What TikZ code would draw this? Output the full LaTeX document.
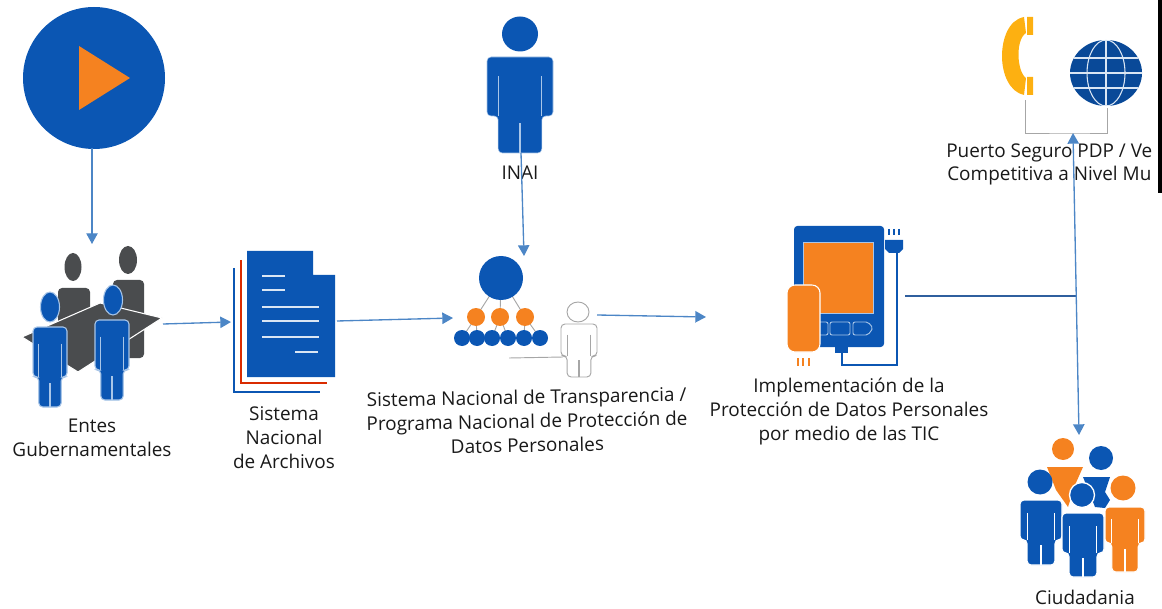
\documentclass[tikz,border=0pt]{standalone}
\usepackage{fontspec}
\setmainfont{Open Sans}
\usetikzlibrary{arrows.meta}
\definecolor{mblue}{HTML}{0B56B3}
\definecolor{morange}{HTML}{F58220}
\definecolor{myellow}{HTML}{FDB011}
\definecolor{mgrey}{HTML}{4A4C4E}
\definecolor{mline}{HTML}{4C86C6}
\definecolor{mlight}{HTML}{A9C6E8}
\definecolor{mdark}{HTML}{2F5F9E}
\tikzset{
  flow/.style={draw=mline,line width=1pt,-{Triangle[length=8pt,width=8.5pt,fill=mline]}},
  flowboth/.style={draw=mline,line width=1pt,{Triangle[length=8pt,width=8.5pt,fill=mline]}-{Triangle[length=8pt,width=8.5pt,fill=mline]}},
  plainline/.style={draw=mdark,line width=1.2pt},
  thin grey/.style={draw=gray!70,line width=.7pt},
  lbl/.style={font=\fontsize{14.2}{18}\selectfont,align=center,text=black!90,inner sep=0pt},
  bluebody/.style={fill=mblue,draw=mlight,line width=.8pt},
  orangebody/.style={fill=morange,draw=white,line width=.8pt},
  greybody/.style={fill=mgrey,draw=none},
  whitebody/.style={fill=white,draw=gray!70,line width=.7pt},
}
% head: cx, cy, rx, ry, style
\newcommand{\hdshape}[5]{\path[#5] (#1,#2) ellipse [x radius=#3,y radius=#4];}
% body: cx, half width, top, arm bottom, bottom, style
\newcommand{\bdshape}[6]{%
  \pgfmathsetmacro{\xa}{#1-#2}\pgfmathsetmacro{\xb}{#1+#2}%
  \pgfmathsetmacro{\xc}{#1-.66*#2}\pgfmathsetmacro{\xd}{#1+.66*#2}%
  \pgfmathsetmacro{\ya}{#3+.33*(#4-#3)}%
  \pgfmathsetmacro{\yb}{#4+.2*(#5-#4)}%
  \path[#6,rounded corners=3pt] (\xa,#4) -- (\xa,#3) -- (\xb,#3) -- (\xb,#4) -- (\xd,#4) -- (\xd,#5) -- (\xc,#5) -- (\xc,#4) -- cycle;
  \draw[#6,fill=none,line width=.8pt] (\xc,\ya) -- (\xc,#4) (\xd,\ya) -- (\xd,#4) (#1,\yb) -- (#1,#5);}
\begin{document}
\begin{tikzpicture}[x=.75pt,y=-.75pt]
\useasboundingbox (0,0) rectangle (1162,609);
% play
\fill[mblue] (94,78) circle [radius=71];
\fill[morange] (79,46) -- (130,78) -- (79,110) -- cycle;
\coordinate (playout) at (92,148);
\coordinate (entesin) at (92,244);
% Entes
\hdshape{73}{267}{8.5}{14}{greybody}
\hdshape{128}{260}{9}{14}{greybody}
\path[greybody,rounded corners=3pt] (58,330) -- (58,288) -- (90,288) -- (90,330) -- cycle;
\path[greybody,rounded corners=3pt] (113,330) -- (113,280) -- (144,280) -- (144,358) -- (113,358) -- cycle;
\path[greybody,draw=white,line width=.8pt] (22,337) -- (100,303) -- (162,318) -- (78,372) -- cycle;
\hdshape{50}{307}{9.5}{15}{bluebody}
\bdshape{50}{17}{327}{377}{407}{bluebody}
\hdshape{113}{300}{9.5}{15}{bluebody}
\bdshape{112}{17}{320}{370}{400}{bluebody}
\node[lbl] (entes) at (92,438) {Entes\\Gubernamentales};
\coordinate (entesout) at (163,324);
% Archivos
\draw[mblue,line width=2.2pt] (234,268) -- (234,392) -- (320,392);
\draw[red!60!orange!85!black,line width=2.2pt] (241,260) -- (241,383) -- (327,383);
\fill[mblue] (247,251) -- (313,251) -- (313,275) -- (335,275) -- (335,377) -- (247,377) -- cycle;
\draw[white!85!mblue,line width=2.2pt] (262,276) -- (285,276) (262,290) -- (285,290) (262,307) -- (319,307) (262,321) -- (319,321) (262,337) -- (319,337) (295,352) -- (318,352);
\node[lbl] (archivos) at (284,438) {Sistema\\Nacional\\de Archivos};
\coordinate (archin) at (231,322);
\coordinate (archout) at (337,321);
% Sistema
\coordinate (org) at (501,278);
\foreach \n/\x in {a/476,b/500,c/525}{
  \coordinate (o\n) at (\x,317);
  \draw[thin grey] (org) -- (o\n);
}
\foreach \n/\x/\p in {1/462/a,2/477/a,3/492/b,4/508/b,5/524/c,6/540/c}{
  \coordinate (s\n) at (\x,338);
  \draw[thin grey] (o\p) -- (s\n);
}
\fill[mblue] (org) circle [radius=22];
\foreach \n in {a,b,c}{\fill[morange] (o\n) circle [radius=9];}
\foreach \n in {1,...,6}{\fill[mblue] (s\n) circle [radius=8];}
\coordinate (wp) at (563,357);
\coordinate (wline) at (509,358);
\draw[thin grey] (wline) -- (wp);
\hdshape{578}{312}{11}{10}{whitebody}
\bdshape{579}{18}{324}{356}{377}{whitebody}
\node[lbl,rotate=1] (sistema) at (527,421) {Sistema Nacional de Transparencia /\\Programa Nacional de Protección de\\Datos Personales};
\coordinate (sisin) at (453,318);
\coordinate (sisout) at (597,315);
\coordinate (sistop) at (524,256);
% INAI
\hdshape{520}{34}{18}{17.5}{fill=mblue}
\bdshape{520}{33}{57}{116}{153}{fill=mblue,draw=mlight}
\node[lbl] (inai) at (520,173) {INAI};
\coordinate (inaiout) at (521,153);
% Implementacion
\fill[mblue,rounded corners=2.5pt] (794,226) rectangle (884,347);
\path[fill=morange,draw=mlight,line width=.6pt] (803,242) rectangle (873,313);
\draw[mlight,line width=.7pt,rounded corners=1.5pt] (818,322) rectangle (828,335) (830,322) rectangle (850,335) (853,322) -- (868,322) -- (873,328) -- (868,335) -- (853,335) -- cycle;
\fill[mblue] (835,345) rectangle (848,353);
\draw[mblue,line width=1.7pt] (842,353) -- (842,365) -- (897,365) -- (897,253);
\fill[mblue] (885,240) -- (903,240) -- (903,249) -- (899,253) -- (889,253) -- (885,249) -- cycle;
\draw[mblue,line width=1.1pt] (889,229) -- (889,235) (894,229) -- (894,235) (899,229) -- (899,235);
\path[fill=morange,draw=white,line width=.8pt,rounded corners=6pt] (787,352) -- (787,285) -- (820,285) -- (820,352) -- cycle;
\draw[morange,line width=1.2pt] (798,358) -- (798,366) (803,358) -- (803,366) (809,358) -- (809,366);
\node[lbl] (impl) at (849,412) {Implementación de la\\Protección de Datos Personales\\por medio de las TIC};
\coordinate (implin) at (706,317);
\coordinate (implout) at (905,296);
\coordinate (junct) at (1077,296);
% Telefono y globo
\path[fill=myellow] (1024,17) .. controls (1008,20) and (1002,40) .. (1002,56) .. controls (1002,75) and (1010,92) .. (1024,95) -- (1026,78) .. controls (1017,72) and (1015,40) .. (1026,33) -- cycle;
\fill[myellow] (1027,17) rectangle (1033,35) (1027,77) rectangle (1033,95);
\fill[mblue!85!black] (1106,73) ellipse [x radius=36,y radius=33];
\begin{scope}
\clip (1106,73) ellipse [x radius=36,y radius=33];
\draw[white!85!mblue,line width=.8pt] (1106,40) -- (1106,106) (1070,58) -- (1142,58) (1070,73) -- (1142,73) (1070,88) -- (1142,88);
\draw[white!85!mblue,line width=.8pt] (1106,73) ellipse [x radius=19,y radius=33];
\end{scope}
\coordinate (phb) at (1025,100);
\coordinate (glb) at (1107,108);
\coordinate (brk) at (1073,133);
\draw[thin grey] (phb) |- (brk) -| (glb);
\begin{scope}
\clip (930,130) rectangle (1155,195);
\node[lbl,anchor=west] (puerto) at (946,153) {Puerto Seguro PDP / Ve};
\node[lbl,anchor=west] (compet) at (947,176) {Competitiva a Nivel Mu};
\end{scope}
\fill[black] (1158,0) rectangle (1162,193);
% Ciudadania
\hdshape{1063}{449}{11}{11}{fill=morange}
\path[fill=morange] (1047,467) -- (1083,467) -- (1075,485) -- (1068,507) -- (1056,490) -- cycle;
\hdshape{1101}{458}{12}{12}{fill=mblue}
\path[fill=mblue] (1083,477) -- (1110,477) -- (1105,492) -- (1110,500) -- (1105,508) -- (1095,507) -- cycle;
\hdshape{1123}{488}{12.5}{12.5}{fill=morange}
\bdshape{1125}{20}{507}{543}{572}{orangebody}
\hdshape{1040}{482}{12.5}{12.5}{fill=mblue}
\bdshape{1041}{21}{500}{540}{565}{fill=mblue,draw=white,line width=.8pt}
\hdshape{1082}{495}{12.5}{12.5}{fill=mblue,draw=white,line width=1pt}
\bdshape{1083}{21}{513}{553}{577}{fill=mblue,draw=white,line width=.8pt}
\node[lbl] (ciudad) at (1085,597) {Ciudadania};
\coordinate (ciuin) at (1079,435);
% conectores
\draw[flow] (playout) -- (entesin);
\draw[flow] (entesout) -- (archin);
\draw[flow] (archout) -- (sisin);
\draw[flow] (inaiout) -- (sistop);
\draw[flow] (sisout) -- (implin);
\draw[plainline] (implout) -- (junct);
\draw[flowboth] (brk) -- (ciuin);
\end{tikzpicture}
\end{document}
